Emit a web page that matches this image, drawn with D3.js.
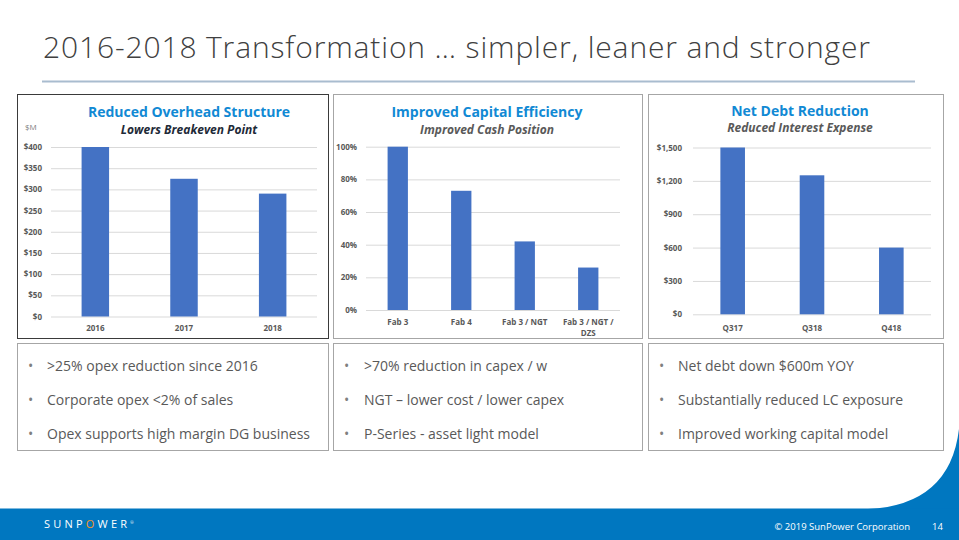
<!DOCTYPE html>
<html>
<head>
<meta charset="utf-8">
<script src="https://cdn.jsdelivr.net/npm/d3@7"></script>
<style>
  html, body { margin: 0; padding: 0; background: #fff; }
  svg { display: block; font-family: "Open Sans", "Noto Sans", sans-serif; }
</style>
</head>
<body>
<svg id="slide" width="959" height="540"></svg>
<script>
// ---------- data ----------
const overheadCategories = ["2016", "2017", "2018"];
const overheadValues = [400, 325, 290];
const overheadTicks = [0, 50, 100, 150, 200, 250, 300, 350, 400];

const capexCategories = ["Fab 3", "Fab 4", "Fab 3 / NGT", "Fab 3 / NGT / DZS"];
const capexValues = [100, 73, 42, 26];
const capexTicks = [0, 20, 40, 60, 80, 100];

const debtCategories = ["Q317", "Q318", "Q418"];
const debtValues = [1500, 1250, 600];
const debtTicks = [0, 300, 600, 900, 1200, 1500];

const bullets1 = [">25% opex reduction since 2016", "Corporate opex <2% of sales", "Opex supports high margin DG business"];
const bullets2 = [">70% reduction in capex / w", "NGT \u2013 lower cost / lower capex", "P-Series - asset light model"];
const bullets3 = ["Net debt down $600m YOY", "Substantially reduced LC exposure", "Improved working capital model"];

// ---------- styles ----------
const BAR = "#4472c4", GRID = "#d9d9d9", AXIS_TXT = "#595959", TITLE_BLUE = "#1189d4";
const svg = d3.select("#slide");

// slide title
svg.append("text").attr("x", 43).attr("y", 58)
  .attr("font-size", 30).attr("font-weight", 300).attr("fill", "#404040")
  .attr("textLength", 827).attr("lengthAdjust", "spacing")
  .text("2016-2018 Transformation \u2026 simpler, leaner and stronger");
svg.append("line").attr("x1", 42).attr("x2", 915).attr("y1", 81.5).attr("y2", 81.5)
  .attr("stroke", "#a9bccf").attr("stroke-width", 2);

// panels
const panels = [
  {x: 17, w: 311, stroke: "#3a3a3a"},
  {x: 333, w: 309, stroke: "#a6a6a6"},
  {x: 648, w: 295, stroke: "#a6a6a6"}
];
panels.forEach(p => {
  svg.append("rect").attr("x", p.x + 0.5).attr("y", 94.5).attr("width", p.w).attr("height", 244)
    .attr("fill", "#fff").attr("stroke", p.stroke).attr("stroke-width", 1);
  svg.append("rect").attr("x", p.x + 0.5).attr("y", 343.5).attr("width", p.w).attr("height", 107)
    .attr("fill", "#fff").attr("stroke", "#a6a6a6").attr("stroke-width", 1);
});

function wrap(textSel, width) {
  textSel.each(function() {
    const t = d3.select(this);
    const words = t.text().split(/\s+/);
    t.text(null);
    let line = [], lineNo = 0;
    let tspan = t.append("tspan").attr("x", 0).attr("y", 0);
    words.forEach(w => {
      line.push(w);
      tspan.text(line.join(" "));
      if (tspan.node().getComputedTextLength() > width && line.length > 1) {
        line.pop();
        tspan.text(line.join(" "));
        line = [w];
        lineNo++;
        tspan = t.append("tspan").attr("x", 0).attr("y", lineNo * 13.5).text(w);
      }
    });
  });
}

function drawChart(cfg) {
  const g = svg.append("g");
  const x = d3.scaleBand().domain(cfg.categories).range([cfg.x0, cfg.x1]).paddingInner(cfg.pad).paddingOuter(cfg.pad / 2);
  const y = d3.scaleLinear().domain([0, d3.max(cfg.ticks)]).range([cfg.y0, cfg.y1]);

  const yAxis = d3.axisLeft(y).tickValues(cfg.ticks).tickSize(-(cfg.x1 - cfg.x0)).tickPadding(cfg.x0 - cfg.labelRight).tickFormat(cfg.fmt);
  const ya = g.append("g").attr("transform", `translate(${cfg.x0},0)`).call(yAxis);
  ya.select(".domain").remove();
  ya.selectAll(".tick line").attr("stroke", GRID).attr("stroke-width", 1);
  ya.selectAll(".tick text").attr("fill", AXIS_TXT).attr("font-size", 8).attr("font-weight", 700)
    .attr("font-family", "'Open Sans', sans-serif");

  g.selectAll("rect.bar").data(cfg.values).join("rect").attr("class", "bar")
    .attr("x", (d, i) => x(cfg.categories[i]))
    .attr("width", x.bandwidth())
    .attr("y", d => y(d))
    .attr("height", d => y(0) - y(d))
    .attr("fill", BAR);

  const xa = d3.axisBottom(x).tickSize(0).tickPadding(0);
  const xg = g.append("g").attr("transform", `translate(0,${cfg.xLabelY})`).call(xa);
  xg.select(".domain").remove();
  xg.selectAll(".tick text").attr("fill", AXIS_TXT).attr("font-size", 8).attr("font-weight", 700)
    .attr("font-family", "'Open Sans', sans-serif").attr("dy", "0.35em").attr("y", 0)
    .call(wrap, x.step() - 4);

  svg.append("text").attr("x", cfg.cx).attr("y", cfg.titleY).attr("text-anchor", "middle")
    .attr("font-size", 14).attr("font-weight", 700).attr("fill", TITLE_BLUE).text(cfg.title);
  svg.append("text").attr("x", cfg.cx).attr("y", cfg.subY).attr("text-anchor", "middle")
    .attr("font-size", 12).attr("font-weight", 700).attr("font-style", "italic")
    .attr("fill", cfg.subColor).text(cfg.subtitle);
}

drawChart({
  categories: overheadCategories, values: overheadValues, ticks: overheadTicks,
  fmt: d => "$" + d, x0: 51, x1: 317, y0: 316.5, y1: 147, pad: 0.69, labelRight: 42, xLabelY: 328,
  title: "Reduced Overhead Structure", subtitle: "Lowers Breakeven Point", cx: 189, titleY: 117, subY: 134, subColor: "#1e2a38"
});
svg.append("text").attr("x", 25).attr("y", 130).attr("font-size", 8).attr("fill", "#7f7f7f").text("$M");

drawChart({
  categories: capexCategories, values: capexValues, ticks: capexTicks,
  fmt: d => d + "%", x0: 366, x1: 620, y0: 310, y1: 146.7, pad: 0.68, labelRight: 357, xLabelY: 322,
  title: "Improved Capital Efficiency", subtitle: "Improved Cash Position", cx: 487, titleY: 117, subY: 134, subColor: "#595959"
});

drawChart({
  categories: debtCategories, values: debtValues, ticks: debtTicks,
  fmt: d => "$" + d3.format(",")(d), x0: 693, x1: 931, y0: 314.3, y1: 147.5, pad: 0.69, labelRight: 682, xLabelY: 328,
  title: "Net Debt Reduction", subtitle: "Reduced Interest Expense", cx: 800, titleY: 115.8, subY: 132.2, subColor: "#595959"
});

// bullet lists
[[bullets1, 29, 47], [bullets2, 345, 364], [bullets3, 660, 678]].forEach(([items, bx, tx]) => {
  items.forEach((t, i) => {
    const yy = 371 + i * 34;
    svg.append("text").attr("x", bx - 1).attr("y", yy).attr("font-size", 14).attr("fill", "#7f7f7f").text("\u2022");
    svg.append("text").attr("x", tx).attr("y", yy).attr("font-size", 14).attr("fill", "#595959").text(t);
  });
});

// footer
const FOOT = "#0077c0";
svg.append("path").attr("d", "M959,429 Q950,505 868,509 L959,509 Z").attr("fill", FOOT);
svg.append("rect").attr("x", 0).attr("y", 508.5).attr("width", 959).attr("height", 32).attr("fill", FOOT);
const logo = svg.append("text").attr("x", 44).attr("y", 527.5).attr("font-size", 11)
  .attr("letter-spacing", 3.2).attr("fill", "#fff");
["SUNP", "O", "WER"].forEach((s, i) => logo.append("tspan").attr("fill", i === 1 ? "#f7941d" : "#fff").text(s));
logo.append("tspan").attr("font-size", 4).attr("dy", -4).attr("letter-spacing", 0).text("\u00ae");
svg.append("text").attr("x", 910).attr("y", 530).attr("text-anchor", "end").attr("font-size", 9.5)
  .attr("fill", "#fff").text("\u00a9 2019 SunPower Corporation");
svg.append("text").attr("x", 932).attr("y", 530).attr("font-size", 9.5).attr("fill", "#fff").text("14");
</script>
</body>
</html>
